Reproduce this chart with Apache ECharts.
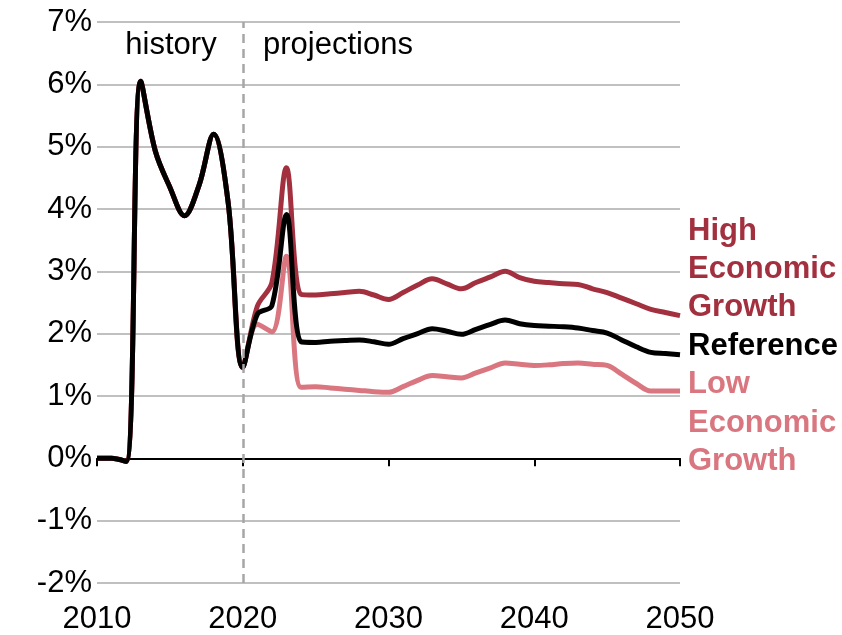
<!DOCTYPE html>
<html>
<head>
<meta charset="utf-8">
<script src="https://cdn.jsdelivr.net/npm/echarts@6/dist/echarts.min.js"></script>
<style>
html,body{margin:0;padding:0;background:#fff;}
#chart{width:842px;height:635px;}
</style>
</head>
<body>
<div id="chart"></div>
<script>
var years = [2010,2011,2012,2013,2014,2015,2016,2017,2018,2019,2020,2021,2022,2023,2024,2025,2026,2027,2028,2029,2030,2031,2032,2033,2034,2035,2036,2037,2038,2039,2040,2041,2042,2043,2044,2045,2046,2047,2048,2049,2050];

var reference = [0,0,-0.05,6.05,4.93,4.35,3.89,4.38,5.2,4.1,1.46,2.31,2.45,3.91,1.87,1.86,1.88,1.89,1.9,1.87,1.83,1.92,2.0,2.08,2.04,1.99,2.07,2.15,2.22,2.16,2.13,2.12,2.11,2.09,2.05,2.01,1.9,1.79,1.7,1.68,1.66];

var highGrowth = [0,0,-0.05,6.05,4.93,4.35,3.89,4.38,5.2,4.1,1.46,2.44,2.82,4.66,2.63,2.62,2.64,2.66,2.68,2.62,2.55,2.66,2.78,2.88,2.8,2.72,2.82,2.91,3.0,2.9,2.84,2.82,2.8,2.79,2.72,2.66,2.57,2.48,2.39,2.34,2.29];

var lowGrowth = [0,0,-0.05,6.05,4.93,4.35,3.89,4.38,5.2,4.1,1.46,2.15,2.03,3.24,1.14,1.15,1.13,1.11,1.09,1.07,1.06,1.15,1.25,1.33,1.31,1.29,1.37,1.45,1.53,1.51,1.49,1.5,1.52,1.53,1.51,1.49,1.35,1.2,1.08,1.08,1.08];

var xTicks = [2010,2020,2030,2040,2050];
var yTicks = [-2,-1,0,1,2,3,4,5,6,7];
var divideYear = 2020;

var FONT = '"Liberation Sans", Arial, sans-serif';
var C_HIGH = '#a3303f';
var C_LOW = '#d9767f';
var C_REF = '#000000';

function pairs(vals){ return years.map(function(y,i){ return [y, vals[i]]; }); }

var chart = echarts.init(document.getElementById('chart'), null, {renderer:'canvas'});

var option = {
  animation: false,
  backgroundColor: '#ffffff',
  grid: {left: 97, right: 162, top: 22, bottom: 52, containLabel: false},
  xAxis: [
    {
      type: 'value', min: xTicks[0], max: xTicks[xTicks.length-1], interval: 10,
      axisLine: {show: false, onZero: false},
      axisTick: {show: false},
      splitLine: {show: false},
      axisLabel: {color: '#000', fontFamily: FONT, fontSize: 31, margin: 21,
        formatter: function(v){ return String(v); }}
    },
    {
      type: 'value', min: xTicks[0], max: xTicks[xTicks.length-1], interval: 10,
      position: 'bottom',
      axisLine: {show: true, onZero: true, lineStyle: {color: '#000', width: 2}},
      axisTick: {show: true, length: 8, lineStyle: {color: '#000', width: 2}},
      splitLine: {show: false},
      axisLabel: {show: false}
    }
  ],
  yAxis: {
    type: 'value', min: yTicks[0], max: yTicks[yTicks.length-1], interval: 1,
    axisLine: {show: false},
    axisTick: {show: false},
    splitLine: {show: true, lineStyle: {color: '#c0c0c0', width: 2}},
    axisLabel: {color: '#000', fontFamily: FONT, fontSize: 31, margin: 5, formatter: '{value}%'}
  },
  series: [
    {
      name: 'Low Economic Growth', type: 'line', data: pairs(lowGrowth),
      smooth: 0.35, symbol: 'none', lineStyle: {color: C_LOW, width: 5}, z: 2,
      markLine: {
        silent: true, symbol: 'none', label: {show: false},
        lineStyle: {color: '#a6a6a6', width: 2.5, type: [9, 6]},
        data: [{xAxis: divideYear}]
      }
    },
    {
      name: 'High Economic Growth', type: 'line', data: pairs(highGrowth),
      smooth: 0.35, symbol: 'none', lineStyle: {color: C_HIGH, width: 5}, z: 3
    },
    {
      name: 'Reference', type: 'line', data: pairs(reference),
      smooth: 0.35, symbol: 'none', lineStyle: {color: C_REF, width: 5}, z: 4
    }
  ],
  graphic: [
    {type: 'text', x: 171, y: 45, style: {text: 'history', font: '31px ' + FONT, fill: '#000', textAlign: 'center', textVerticalAlign: 'middle'}},
    {type: 'text', x: 263, y: 45, style: {text: 'projections', font: '31px ' + FONT, fill: '#000', textAlign: 'left', textVerticalAlign: 'middle'}},
    {type: 'text', x: 688, y: 231, style: {text: 'High', font: 'bold 31px ' + FONT, fill: C_HIGH, textVerticalAlign: 'middle'}},
    {type: 'text', x: 688, y: 269, style: {text: 'Economic', font: 'bold 31px ' + FONT, fill: C_HIGH, textVerticalAlign: 'middle'}},
    {type: 'text', x: 688, y: 307, style: {text: 'Growth', font: 'bold 31px ' + FONT, fill: C_HIGH, textVerticalAlign: 'middle'}},
    {type: 'text', x: 688, y: 346, style: {text: 'Reference', font: 'bold 31px ' + FONT, fill: C_REF, textVerticalAlign: 'middle'}},
    {type: 'text', x: 688, y: 384, style: {text: 'Low', font: 'bold 31px ' + FONT, fill: C_LOW, textVerticalAlign: 'middle'}},
    {type: 'text', x: 688, y: 423, style: {text: 'Economic', font: 'bold 31px ' + FONT, fill: C_LOW, textVerticalAlign: 'middle'}},
    {type: 'text', x: 688, y: 461, style: {text: 'Growth', font: 'bold 31px ' + FONT, fill: C_LOW, textVerticalAlign: 'middle'}}
  ]
};
chart.setOption(option);
</script>
</body>
</html>
